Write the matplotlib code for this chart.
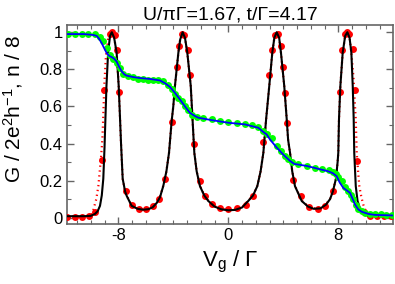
import matplotlib
matplotlib.use('Agg')
import matplotlib.pyplot as plt
from matplotlib.ticker import MultipleLocator

plt.rcParams['font.family'] = ['Liberation Sans', 'DejaVu Sans']
plt.rcParams['mathtext.fontset'] = 'custom'
plt.rcParams['mathtext.rm'] = 'Liberation Sans'
plt.rcParams['mathtext.it'] = 'Liberation Sans:italic'

# conductance, solid black curve
g_line_x = [-11.7, -10.5, -10.0, -9.7, -9.5, -9.33, -9.2, -9.09, -9.0, -8.95, -8.86, -8.74,
            -8.6, -8.47, -8.3, -8.12, -7.97, -7.87, -7.8, -7.68, -7.5, -7.39, -7.03, -6.6,
            -6.2, -5.8, -5.5, -5.2, -4.97, -4.73, -4.5, -4.31, -4.12, -4.0, -3.88, -3.63,
            -3.5, -3.32, -3.15, -2.98, -2.73, -2.6, -2.47, -2.3, -2.06, -1.75, -1.45, -1.0,
            -0.5, 0.0, 0.5, 1.0, 1.45, 1.8, 2.11, 2.35, 2.55, 2.75, 2.98, 3.2, 3.35, 3.52,
            3.7, 3.83, 4.07, 4.25, 4.35, 4.49, 4.65, 4.85, 5.34, 5.8, 6.2, 6.7, 7.1, 7.4,
            7.6, 7.83, 7.95, 8.0, 8.05, 8.15, 8.32, 8.5, 8.66, 8.82, 8.95, 9.05, 9.12,
            9.16, 9.27, 9.4, 9.58, 9.8, 10.1, 12.0]
g_line_y = [0.008, 0.008, 0.01, 0.02, 0.035, 0.064, 0.12, 0.21, 0.38, 0.5, 0.71, 0.89,
            0.98, 1.0, 0.97, 0.89, 0.71, 0.53, 0.40, 0.21, 0.14, 0.118, 0.064, 0.048,
            0.043, 0.046, 0.056, 0.08, 0.11, 0.17, 0.25, 0.35, 0.52, 0.6, 0.71, 0.89,
            0.96, 1.0, 0.97, 0.89, 0.71, 0.53, 0.35, 0.25, 0.17, 0.12, 0.09, 0.06,
            0.045, 0.04, 0.042, 0.055, 0.09, 0.12, 0.17, 0.25, 0.35, 0.53, 0.71, 0.89, 0.97, 1.0,
            0.97, 0.89, 0.71, 0.53, 0.42, 0.35, 0.25, 0.17, 0.09, 0.06, 0.048, 0.05, 0.07, 0.1,
            0.14, 0.21, 0.3, 0.35, 0.53, 0.71, 0.89, 0.98, 1.0, 0.97, 0.89, 0.71, 0.53,
            0.35, 0.17, 0.09, 0.05, 0.025, 0.012, 0.01]

# conductance, red dotted curve
g_dot_x = [-11.7, -10.5, -10.0, -9.85, -9.75, -9.6, -9.45, -9.35, -9.25, -9.16, -9.1, -9.02,
           -8.9, -8.75, -8.6, -8.47, -8.3, -8.12, -7.97, -7.87, -7.8, -7.68, -7.5, -7.39,
           -7.03, -6.6, -6.2, -5.8, -5.5, -5.2, -4.97, -4.73, -4.5, -4.31, -4.12, -4.0,
           -3.88, -3.63, -3.5, -3.32, -3.15, -2.98, -2.73, -2.6, -2.47, -2.3, -2.06, -1.75,
           -1.45, -1.0, -0.5, 0.0, 0.5, 1.0, 1.45, 1.8, 2.11, 2.35, 2.55, 2.75, 2.98, 3.2,
           3.35, 3.52, 3.7, 3.83, 4.07, 4.25, 4.35, 4.49, 4.65, 4.85, 5.34, 5.8, 6.2, 6.7,
           7.1, 7.4, 7.6, 7.83, 7.95, 8.0, 8.05, 8.15, 8.32, 8.5, 8.66, 8.82, 8.95, 9.1,
           9.2, 9.27, 9.34, 9.45, 9.53, 9.68, 9.82, 10.0, 10.3, 12.0]
g_dot_y = [0.008, 0.008, 0.012, 0.03, 0.06, 0.1, 0.17, 0.25, 0.33, 0.42, 0.53, 0.71,
           0.87, 0.96, 0.995, 1.0, 0.97, 0.89, 0.71, 0.53, 0.40, 0.21, 0.14, 0.12,
           0.066, 0.05, 0.045, 0.048, 0.058, 0.082, 0.112, 0.172, 0.25, 0.35, 0.52, 0.6,
           0.71, 0.89, 0.96, 1.0, 0.97, 0.89, 0.71, 0.53, 0.35, 0.25, 0.172, 0.122,
           0.092, 0.062, 0.047, 0.042, 0.044, 0.057, 0.092, 0.122, 0.172, 0.25, 0.35, 0.53, 0.71, 0.89,
           0.97, 1.0, 0.97, 0.89, 0.71, 0.53, 0.42, 0.35, 0.25, 0.172, 0.092, 0.062, 0.05, 0.052,
           0.072, 0.102, 0.142, 0.21, 0.3, 0.35, 0.53, 0.71, 0.89, 0.98, 1.0, 0.97, 0.89, 0.76,
           0.62, 0.53, 0.35, 0.24, 0.17, 0.11, 0.07, 0.035, 0.012, 0.01]

# conductance, red symbols
g_sym_x = [-11.75, -11.15, -10.66, -10.1, -9.66, -9.18, -9.03, -8.6, -8.43, -8.26, -8.07,
           -7.93, -7.45, -6.98, -6.48, -5.99, -5.51, -5.06, -4.6, -4.09, -3.75, -3.56,
           -3.38, -3.22, -2.91, -2.78, -2.47, -2.06, -1.69, -1.21, -0.6, 0.0, 0.66, 1.29,
           1.82, 2.55, 2.98, 3.16, 3.42, 3.58, 3.81, 3.95, 4.12, 4.29, 4.7, 5.29, 5.88,
           6.5, 7.03, 7.59, 8.12, 8.29, 8.48, 8.64, 8.8, 9.05, 9.21, 9.38, 9.85, 10.3,
           10.8, 11.3, 11.8]
g_sym_y = [0.005, 0.005, 0.005, 0.008, 0.03, 0.31, 0.69, 0.99, 1.0, 0.985, 0.905,
           0.676, 0.145, 0.068, 0.049, 0.049, 0.063, 0.102, 0.208, 0.515, 0.815, 0.926,
           0.99, 0.985, 0.905, 0.77, 0.40, 0.2, 0.118, 0.073, 0.05, 0.047, 0.05, 0.068,
           0.118, 0.41, 0.77, 0.905, 0.985, 0.99, 0.926, 0.815, 0.67, 0.51, 0.205, 0.115, 0.055,
           0.048, 0.062, 0.145, 0.68, 0.905, 0.99, 1.0, 0.99, 0.91, 0.69, 0.306, 0.03, 0.01,
           0.008, 0.008, 0.008]

# occupancy n/8, blue line
n_line_x = [-11.7, -10.5, -9.8, -9.57, -9.4, -9.2, -9.0, -8.84, -8.65, -8.48, -8.3, -8.12,
            -7.95, -7.75, -7.55, -7.39, -6.9, -6.42, -5.7, -4.97, -4.6, -4.24, -3.9, -3.51,
            -3.15, -2.79, -2.42, -2.18, -1.21, 0.0, 1.21, 2.18, 2.55, 2.79, 3.03, 3.5, 4.0,
            4.49, 4.8, 5.7, 6.67, 7.27, 7.6, 7.88, 8.1, 8.36, 8.6, 8.85, 9.05, 9.21, 9.45,
            9.7, 10.2, 10.67, 12.0]
n_line_y = [0.99, 0.99, 0.985, 0.98, 0.965, 0.94, 0.91, 0.887, 0.872, 0.866, 0.857, 0.842,
            0.815, 0.789, 0.772, 0.766, 0.758, 0.753, 0.748, 0.74, 0.725, 0.705, 0.675, 0.637,
            0.6, 0.565, 0.548, 0.539, 0.526, 0.512, 0.503, 0.485, 0.462, 0.449, 0.422, 0.38, 0.34,
            0.306, 0.29, 0.279, 0.261, 0.25, 0.24, 0.224, 0.19, 0.161, 0.148, 0.134, 0.1, 0.072, 0.045,
            0.032, 0.02, 0.015, 0.012]

# occupancy n/8, green symbols
n_sym_x = [-11.63, -11.15, -10.66, -10.18, -9.69, -9.33, -9.09, -8.84, -8.6, -8.36, -8.12,
           -7.88, -7.64, -7.27, -6.91, -6.55, -6.18, -5.82, -5.45, -5.09, -4.73, -4.36,
           -4.12, -3.88, -3.64, -3.39, -3.15, -2.91, -2.67, -2.3, -1.82, -1.21, -0.6, 0.0,
           0.6, 1.21, 1.7, 2.18, 2.55, 2.79, 3.15, 3.52, 3.82, 4.12, 4.37, 4.61, 5.09, 5.7,
           6.3, 6.8, 7.3, 7.6, 7.8, 8.0, 8.25, 8.5, 8.73, 8.92, 9.09, 9.27, 9.45, 9.7,
           9.94, 10.3, 10.67, 11.1, 11.5, 11.9]
n_sym_y = [0.99, 0.99, 0.99, 0.99, 0.988, 0.976, 0.95, 0.914, 0.878, 0.855, 0.834,
           0.807, 0.776, 0.762, 0.756, 0.749, 0.748, 0.744, 0.744, 0.74, 0.735, 0.717,
           0.694, 0.669, 0.646, 0.628, 0.601, 0.579, 0.556, 0.545, 0.535, 0.53, 0.52, 0.515,
           0.51, 0.505, 0.498, 0.49, 0.47, 0.452, 0.43, 0.386, 0.36, 0.333, 0.315, 0.3, 0.288, 0.279,
           0.27, 0.262, 0.255, 0.248, 0.235, 0.22, 0.197, 0.165, 0.143, 0.125, 0.099, 0.07, 0.045, 0.035,
           0.027, 0.022, 0.02, 0.018, 0.017, 0.016]

title = 'U/\u03c0\u0393=1.67, t/\u0393=4.17'
x_label = 'V$_\\mathregular{g}$ / \u0393'
y_label = 'G / 2e$^\\mathregular{2}$h$^\\mathregular{-1}$, n / 8'
y_ticks = [0, 0.2, 0.4, 0.6, 0.8, 1.0]
y_tick_labels = ['0', '0.2', '0.4', '0.6', '0.8', '1']
x_ticks = [-8, 0, 8]

fig = plt.figure(figsize=(3.95, 2.84), dpi=100)
ax = fig.add_axes([0.1696, 0.2113, 0.8254, 0.7007])

ax.plot(g_dot_x, g_dot_y, color='red', lw=1.6, ls=(0, (0.6, 1.6)), zorder=2)
ax.plot(g_sym_x, g_sym_y, 'o', color='red', ms=5.0, mew=0, zorder=3)
ax.plot(g_line_x, g_line_y, color='black', lw=1.5, zorder=4)
ax.plot(n_sym_x, n_sym_y, 'o', color='#00ff00', ms=5.0, mew=0, zorder=5)
ax.plot(n_line_x, n_line_y, color='blue', lw=1.3, zorder=6)

ax.set_xlim(-11.73, 11.98)
ax.set_ylim(-0.034, 1.039)
ax.set_xticks(x_ticks)
ax.set_xticklabels([str(v) for v in x_ticks])
ax.xaxis.set_minor_locator(MultipleLocator(1))
ax.set_yticks(y_ticks)
ax.set_yticklabels(y_tick_labels)
ax.yaxis.set_minor_locator(MultipleLocator(0.1))

frame = '#666666'
for s in ax.spines.values():
    s.set_color(frame)
    s.set_linewidth(1.2)
ax.tick_params(which='both', direction='in', top=True, right=True, color=frame,
               labelsize=12, pad=3)
ax.tick_params(which='major', length=5, width=1)
ax.tick_params(which='minor', length=3, width=0.8)

ax.set_title(title, fontsize=14, pad=4)
ax.set_xlabel(x_label, fontsize=16, labelpad=4)
ax.set_ylabel(y_label, fontsize=15)
ax.yaxis.set_label_coords(-0.13, 0.58)

fig.savefig('out.png', dpi=100)
